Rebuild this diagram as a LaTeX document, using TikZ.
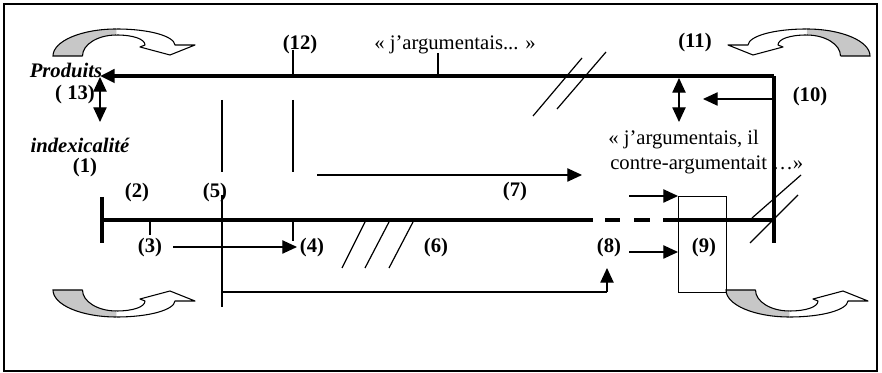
\documentclass[tikz,border=0pt]{standalone}
\usepackage{fontspec}
\setmainfont{Liberation Serif}
\usetikzlibrary{arrows.meta}
\begin{document}
\begin{tikzpicture}[x=0.75pt,y=-0.75pt,
 thickln/.style={line width=2.6pt},
 thinln/.style={line width=0.9pt},
 arr/.style={thinln,-{Triangle[length=11pt,width=10pt]}},
 darr/.style={thinln,{Triangle[length=11pt,width=10pt]}-{Triangle[length=11pt,width=10pt]}},
 thickarr/.style={thickln,-{Triangle[length=11pt,width=10pt]}},
 lbl/.style={font=\fontsize{15.5}{18}\selectfont\bfseries, inner sep=0pt},
 ilbl/.style={font=\fontsize{15.5}{18}\selectfont\bfseries\itshape, inner sep=0pt},
 txt/.style={font=\fontsize{15.5}{18.5}\selectfont, inner sep=0pt, align=left},
 slash/.style={line width=0.9pt},
 curved/.pic={
   \fill[black!22] (0,27) .. controls (0,12.1) and (28.4,0) .. (63.5,0)
       -- (63.5,6) .. controls (44.7,6) and (29.5,15.4) .. (29.5,27) -- cycle;
   \draw[line width=0.8pt] (29.5,27) -- (0,27) .. controls (0,12.1) and (28.4,0) .. (63.5,0);
   \draw[line width=0.8pt] (63.5,6) .. controls (44.7,6) and (29.5,15.4) .. (29.5,27);
   \fill[white] (63.5,0) .. controls (96,0) and (121,7) .. (122,16)
       -- (142,16) -- (117,26) -- (87,18) -- (92,16) .. controls (92,10) and (80,6) .. (63.5,6) -- cycle;
   \draw[line width=0.8pt, line join=round] (63.5,0) .. controls (96,0) and (121,7) .. (122,16)
       -- (142,16) -- (117,26) -- (87,18) -- (92,16) .. controls (92,10) and (80,6) .. (63.5,6);
 }
 ]
\useasboundingbox (0,0) rectangle (882,373);
\draw[line width=1.3pt] (4,4) rectangle (877,371);

% curved arrows
\pic at (53,29) {curved};
\pic[xscale=-1] at (870,29) {curved};
\pic[yscale=-1] at (53,317) {curved};
\pic[yscale=-1] at (726,317) {curved};

% key coordinates
\coordinate (TL) at (100,76);
\coordinate (TR) at (774,76);
\coordinate (RB) at (774,243);
\coordinate (ML) at (102,220);
\coordinate (MD1) at (593,220);
\coordinate (MD2) at (663,220);
\coordinate (MR) at (774,220);

% top thick line with arrow to Produits, right vertical
\draw[thickln] (RB) -- (TR);
\draw[thickarr] (TR) -- (TL);
% main line
\draw[thickln] (102,197) -- (102,243);
\draw[thickln] (ML) -- (MD1);
\draw[thickln] (605,220) -- (620,220);
\draw[thickln] (634,220) -- (650,220);
\draw[thickln] (MD2) -- (MR);

% box (9)
\node[draw, line width=0.9pt, minimum width=48*0.75pt, minimum height=96*0.75pt, inner sep=0pt, anchor=north west] (box9) at (678,196) {};

% ticks
\draw[thinln] (293,50) -- (293,76);
\draw[thinln] (438,53) -- (438,76);
\draw[thinln] (293,100) -- (293,172);
\draw[thinln] (222,100) -- (222,172);
\draw[thinln] (150,220) -- (150,235);
\draw[thinln] (293,220) -- (293,241);

% (5) line and path to (8)
\coordinate (P5a) at (222,195);
\coordinate (P5b) at (222,307);
\coordinate (P5c) at (222,292);
\coordinate (P8a) at (607,292);
\coordinate (P8b) at (607,268);
\draw[thinln] (P5a) -- (P5b);
\draw[thinln] (P5c) -- (P8a);
\draw[arr] (P8a) -- (P8b);

% arrows
\coordinate (A7s) at (317,175);
\coordinate (A7e) at (582,175);
\draw[arr] (A7s) -- (A7e);
\coordinate (A3s) at (173,247);
\coordinate (A3e) at (297,247);
\draw[arr] (A3s) -- (A3e);
\coordinate (B1s) at (629,196);
\coordinate (B2s) at (629,252);
\draw[arr] (B1s) -- (box9.north west);
\draw[arr] (B2s) -- (box9.north west |- B2s);
\coordinate (A10s) at (774,99);
\coordinate (A10e) at (703,99);
\draw[arr] (A10s) -- (A10e);
\draw[darr] (679,78) -- (679,122);
\draw[darr] (100,77) -- (100,122);

% slashes
\draw[slash] (342,268) -- (365,222);
\draw[slash] (365,268) -- (389,222);
\draw[slash] (389,268) -- (413,222);
\draw[slash] (533,116) -- (582,58);
\draw[slash] (557,109) -- (606,52);
\draw[slash] (752,218) -- (801,175);
\draw[slash] (750,243) -- (798,195);

% labels
\node[lbl] (l12) at (300,45) {(12)};
\node[txt] (targ) at (455,45) {« j’argumentais... »};
\node[lbl] (l11) at (695,43) {(11)};
\node[lbl] (l10) at (810,97) {(10)};
\node[ilbl] (prod) at (66,70) {Produits};
\node[lbl] (l13) at (75,95) {( 13)};
\node[ilbl] (index) at (80,145) {indexicalité};
\node[lbl] (l1) at (85,168) {(1)};
\node[lbl] (l2) at (137,193) {(2)};
\node[lbl] (l5) at (215,193) {(5)};
\node[lbl] (l3) at (150,248) {(3)};
\node[lbl] (l4) at (312,248) {(4)};
\node[lbl] (l6) at (436,248) {(6)};
\node[lbl] (l7) at (515,192) {(7)};
\node[lbl] (l8) at (609,248) {(8)};
\node[lbl] (l9) at (704,248) {(9)};
\node[txt, anchor=west] (arg1) at (608,140) {« j’argumentais, il};
\node[txt, anchor=west] (arg2) at (610,165) {contre-argumentait …»};
\end{tikzpicture}
\end{document}
